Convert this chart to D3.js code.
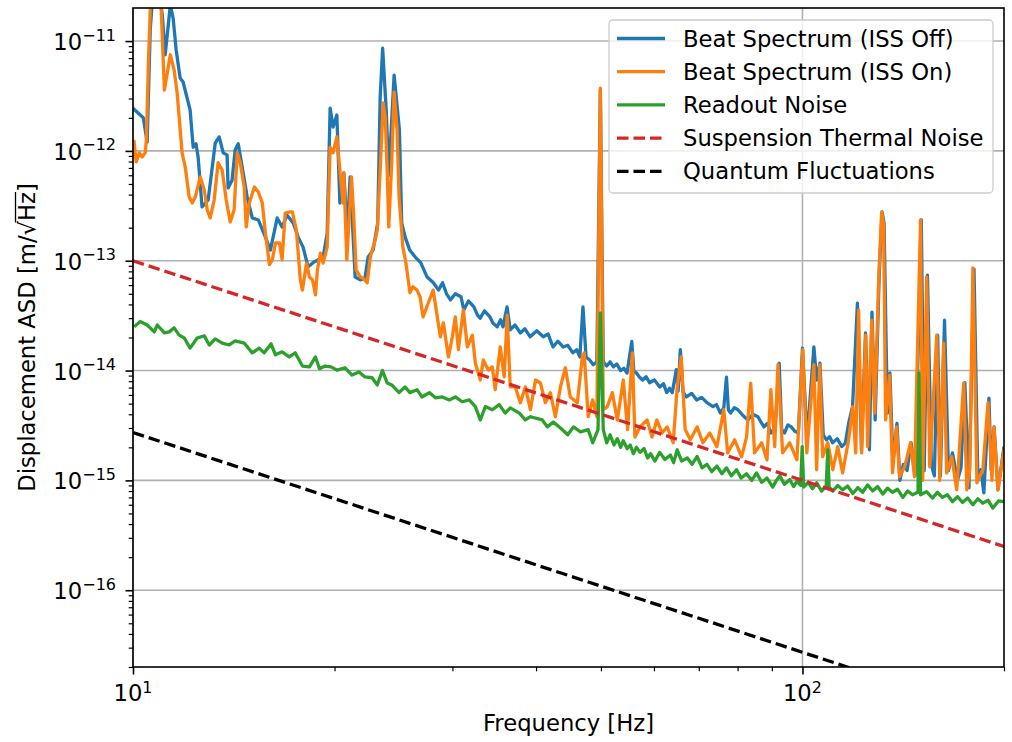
<!DOCTYPE html>
<html lang="en">
<head>
<meta charset="UTF-8">
<title>Displacement ASD</title>
<script src="https://cdn.jsdelivr.net/npm/d3@7"></script>
<style>
  body { margin: 0; background: #fff; }
  svg { display: block; font-family: "DejaVu Sans", sans-serif; }
</style>
</head>
<body>
<script>
// ---- data: [frequency in Hz, ASD in m/sqrt(Hz)] ----
const beatOff = [
  [10.0,2.45e-12],[10.25,2.12e-12],[10.36,2.0e-12],[10.5,1.2e-12],[10.54,2.9e-12],[10.61,1.26e-11],[10.7,2.6e-11],[10.9,3.2e-11],[11.06,1.73e-11],[11.17,7.5e-12],
  [11.29,1.4e-11],[11.37,2.13e-11],[11.48,1.62e-11],[11.6,8.3e-12],[11.76,4.6e-12],[11.88,4.24e-12],[12.17,2.36e-12],[12.3,1.08e-12],[12.42,1.16e-12],[12.51,8.8e-13],
  [12.68,3.09e-13],[12.95,3.57e-13],[13.27,1.18e-12],[13.45,1.34e-12],[13.64,9.6e-13],[13.82,9.2e-13],[13.87,4.6e-13],[14.06,5.4e-13],[14.21,1.02e-12],[14.36,1.16e-12],
  [14.56,7.1e-13],[14.81,3.8e-13],[15.07,2.45e-13],[15.39,2.35e-13],[15.77,1.64e-13],[16.04,1.25e-13],[16.42,2.45e-13],[16.7,2.03e-13],[16.99,2.6e-13],[17.36,2.2e-13],
  [17.65,1.64e-13],[17.95,1.33e-13],[18.26,8.8e-14],[18.58,9.6e-14],[18.91,1.02e-13],[19.23,1.08e-13],[19.5,1.78e-13],[19.7,2.45e-12],[19.9,1.65e-12],[20.16,2.12e-12],
  [20.37,3.35e-13],[20.65,6.3e-13],[20.9,1.78e-13],[21.1,5.8e-13],[21.47,7.1e-14],[21.85,6.7e-14],[22.2,6.9e-14],[22.45,1.08e-13],[22.84,1.25e-13],[23.2,2.2e-13],
  [23.4,3.09e-12],[23.6,8.6e-12],[23.9,2.24e-12],[24.1,6.0e-13],[24.55,4.9e-12],[25.0,1.55e-12],[25.2,2.2e-13],[25.5,1.64e-13],[25.9,1.25e-13],[26.4,1.08e-13],
  [26.9,9.6e-14],[27.5,7.1e-14],[28.1,6.3e-14],[28.6,5.4e-14],[29.0,6.3e-14],[29.4,5.0e-14],[29.8,4.4e-14],[30.3,5.0e-14],[30.9,4.7e-14],[31.2,3.56e-14],
  [31.7,4.3e-14],[32.3,3.8e-14],[32.7,3.2e-14],[33.0,3.0e-14],[33.5,3.5e-14],[34.1,3.1e-14],[34.5,2.7e-14],[35.0,2.5e-14],[35.4,2.9e-14],[35.7,2.5e-14],
  [36.2,3.8e-14],[36.6,2.35e-14],[37.2,2.6e-14],[37.9,2.2e-14],[38.5,2.4e-14],[39.2,2.03e-14],[40.1,2.3e-14],[41.0,2.03e-14],[41.7,2.15e-14],[42.4,1.64e-14],
  [43.1,1.85e-14],[43.9,1.64e-14],[44.6,1.7e-14],[45.4,1.45e-14],[46.0,1.55e-14],[46.5,1.33e-14],[47.0,3.8e-14],[47.5,1.33e-14],[48.1,1.25e-14],[48.7,1.13e-14],
  [49.3,1.2e-14],[49.9,3.6e-12],[50.4,1.2e-14],[51.0,1.1e-14],[51.6,1.2e-14],[52.2,1.08e-14],[52.8,1.15e-14],[53.5,1.0e-14],[54.1,1.05e-14],[54.7,9.5e-15],
  [55.6,1.84e-14],[56.0,9.8e-15],[56.5,9.5e-15],[57.1,8.7e-15],[57.7,8.2e-15],[58.4,8.8e-15],[59.1,7.75e-15],[60.1,8.2e-15],[61.2,7.1e-15],[62.0,7.6e-15],
  [62.7,6.3e-15],[63.3,6.9e-15],[63.9,6.3e-15],[64.8,1.02e-14],[65.2,6.5e-15],[65.7,1.55e-14],[66.3,6.4e-15],[67.1,5.75e-15],[68.3,6.2e-15],[69.5,5.4e-15],
  [70.7,5.7e-15],[72.0,5.1e-15],[73.5,4.7e-15],[74.4,4.9e-15],[75.4,4.1e-15],[76.3,4.6e-15],[77.0,8.7e-15],[77.5,4.4e-15],[78.1,4.1e-15],[79.1,4.6e-15],
  [80.1,4.4e-15],[81.5,3.9e-15],[82.9,3.55e-15],[84.3,4.0e-15],[85.8,3.8e-15],[86.7,3.4e-15],[87.6,3.07e-15],[88.6,3.3e-15],[89.7,2.7e-15],[91.0,3.0e-15],
  [92.3,1.17e-14],[93.1,2.9e-15],[94.0,2.7e-15],[95.1,3.2e-15],[96.2,3.07e-15],[97.4,2.8e-15],[98.6,2.7e-15],[100.0,1.6e-14],[101.6,2.34e-15],[104.0,1.64e-14],
  [105.0,8.2e-15],[106.2,1.17e-14],[107.4,2.6e-15],[108.6,2.34e-15],[109.8,2.5e-15],[110.9,2.2e-15],[112.7,2.4e-15],[114.5,2.03e-15],[115.9,2.2e-15],[117.2,3.3e-15],
  [118.8,4.7e-15],[120.8,4.1e-14],[122.5,1.9e-15],[124.2,2.2e-14],[125.9,1.9e-15],[127.0,3.4e-14],[128.4,3.55e-15],[130.2,7.4e-14],[131.5,2.78e-13],[132.4,2.2e-13],
  [133.9,4.1e-15],[135.1,9.5e-15],[136.5,1.45e-15],[138.4,3.3e-15],[139.8,1.0e-15],[141.5,1.4e-15],[143.3,1.23e-15],[145.3,2.2e-15],[147.3,1.1e-15],[150.5,2.35e-13],
  [152.0,1.23e-15],[153.7,7.4e-14],[155.8,1.38e-15],[157.4,1.1e-15],[159.2,2.1e-14],[160.7,1.1e-15],[163.0,2.87e-14],[165.2,1.23e-15],[167.5,1.78e-15],[170.4,1.0e-15],
  [172.5,1.3e-15],[174.8,7.75e-15],[177.3,8.6e-16],[180.4,8.4e-14],[182.8,1.0e-15],[184.7,1.25e-15],[186.6,7.7e-16],[189.9,5.6e-15],[191.4,1.23e-15],[193.3,3.07e-15],
  [195.9,8.2e-16],[200,2.03e-15]
];

const beatOn = [
  [10.03,1.26e-12],[10.11,7.94e-13],[10.22,9.6e-13],[10.32,8.8e-13],[10.43,9.6e-13],[10.47,1.26e-12],[10.54,5.8e-12],[10.61,1.91e-11],[10.69,3.5e-11],[10.87,3.5e-11],
  [11.02,1.91e-11],[11.14,3.58e-12],[11.25,5.1e-12],[11.37,7.5e-12],[11.52,5.45e-12],[11.64,3.36e-12],[11.84,9.6e-13],[11.97,7.1e-13],[12.13,3.8e-13],[12.26,3.35e-13],
  [12.39,3.8e-13],[12.6,5.8e-13],[12.78,4.4e-13],[12.91,2.9e-13],[13.04,2.45e-13],[13.22,3.57e-13],[13.4,7.8e-13],[13.59,6.7e-13],[13.78,3.57e-13],[13.97,2.25e-13],
  [14.16,2.9e-13],[14.31,9.6e-13],[14.46,7.8e-13],[14.66,4.7e-13],[14.76,2.03e-13],[14.92,3.35e-13],[15.18,4.7e-13],[15.39,4.22e-13],[15.6,3.35e-13],[15.77,1.78e-13],
  [15.99,9.2e-14],[16.15,1.02e-13],[16.32,1.45e-13],[16.55,1.45e-13],[16.7,1.02e-13],[16.88,2.72e-13],[17.18,2.78e-13],[17.3,2.78e-13],[17.54,1.9e-13],[17.78,6.7e-14],
  [17.91,5.4e-14],[18.16,9.5e-14],[18.35,7.1e-14],[18.54,6.7e-14],[18.73,4.9e-14],[18.86,8.3e-14],[19.05,1.17e-13],[19.23,9.5e-14],[19.5,1.33e-13],[19.7,1.08e-12],
  [19.9,9.6e-13],[20.16,1.34e-12],[20.37,6.7e-13],[20.59,3.35e-13],[20.65,6.3e-13],[20.86,1.02e-13],[21.0,2.03e-13],[21.2,5.8e-13],[21.37,2.5e-13],[21.54,8.3e-14],
  [21.85,7.1e-14],[22.08,6.9e-14],[22.38,6.3e-14],[22.62,1.08e-13],[22.93,1.45e-13],[23.17,1.9e-13],[23.4,6.7e-13],[23.64,2.73e-12],[23.81,2.04e-12],[23.97,6.7e-13],
  [24.1,2.03e-13],[24.35,7.8e-13],[24.55,3.43e-12],[24.8,1.55e-12],[24.97,3.8e-13],[25.3,1.33e-13],[25.57,9.5e-14],[25.92,5.1e-14],[26.19,5.8e-14],[26.56,5.4e-14],
  [26.84,4.7e-14],[27.12,3.08e-14],[27.6,4.1e-14],[28.08,5.4e-14],[28.48,3.08e-14],[28.78,2.03e-14],[29.08,2.72e-14],[29.59,1.33e-14],[29.99,2.03e-14],[30.3,3.08e-14],
  [30.62,1.55e-14],[31.15,3.56e-14],[31.58,1.64e-14],[32.13,2.1e-14],[32.46,1.17e-14],[33.02,8.2e-15],[33.36,1.25e-14],[33.94,1.01e-14],[34.41,1.08e-14],[34.76,6.7e-15],
  [35.36,1.64e-14],[35.85,8.75e-15],[36.22,3.2e-14],[36.6,7.1e-15],[37.24,7.1e-15],[37.9,5.1e-15],[38.55,7.1e-15],[39.23,4.4e-15],[39.92,8.2e-15],[40.6,7.7e-15],
  [41.3,5.1e-15],[42.02,6.3e-15],[42.75,3.8e-15],[43.5,7.1e-15],[44.24,1.06e-14],[45.0,5.75e-15],[46.1,5.1e-15],[46.9,1.33e-14],[47.2,1.45e-14],[47.85,3.8e-15],
  [48.6,5.4e-15],[49.3,3.8e-15],[49.9,3.73e-12],[50.4,4.4e-15],[51.1,4.7e-15],[52.0,6.3e-15],[52.9,3.55e-15],[54.0,8.2e-15],[54.8,2.9e-15],[55.7,1.45e-14],
  [56.2,2.48e-15],[57.2,3.07e-15],[58.6,3.55e-15],[59.6,2.48e-15],[60.6,3.55e-15],[61.7,2.7e-15],[62.8,3.07e-15],[64.1,2.2e-15],[65.0,7.1e-15],[65.9,1.33e-14],
  [66.8,2.9e-15],[68.0,2.34e-15],[69.6,3.07e-15],[71.0,2.2e-15],[72.7,2.7e-15],[74.5,2.03e-15],[76.3,4.4e-15],[77.3,1.78e-15],[79.2,2.34e-15],[81.1,1.64e-15],
  [82.5,2.48e-15],[83.7,7.7e-15],[84.8,1.78e-15],[86.9,2.2e-15],[88.5,1.54e-15],[89.7,6.7e-15],[90.9,2.03e-15],[91.9,1.13e-14],[93.4,1.78e-15],[95.7,2.2e-15],
  [98.1,1.54e-15],[100.1,1.55e-14],[101.5,1.78e-15],[104.0,1.13e-14],[105.0,1.25e-15],[106.1,1.13e-14],[107.2,1.64e-15],[109.1,2.2e-15],[111.0,1.25e-15],[112.9,2.03e-15],
  [114.8,1.17e-15],[117.2,2.34e-15],[118.9,4.7e-15],[120.1,1.78e-15],[121.3,3.56e-14],[122.6,1.78e-15],[124.3,2.1e-14],[125.1,2.03e-15],[126.9,2.87e-14],[128.2,4.1e-15],
  [130.0,7.1e-14],[131.3,2.78e-13],[132.2,2.12e-13],[133.1,3.55e-15],[134.9,9.1e-15],[136.3,1.17e-15],[138.2,3.07e-15],[139.6,1.08e-15],[142.1,1.33e-15],[145.0,2.2e-15],
  [147.0,1.08e-15],[150.1,2.35e-13],[151.2,1.0e-15],[153.3,7.1e-14],[154.9,1.33e-15],[158.7,2.1e-14],[160.3,1.0e-15],[162.5,1.78e-14],[164.2,1.17e-15],[167.1,1.64e-15],
  [170.0,8.2e-16],[174.1,7.7e-15],[176.0,8.2e-16],[177.8,1.25e-15],[179.7,8.6e-14],[182.2,9.5e-16],[186.0,1.25e-15],[189.3,5.1e-15],[191.9,1.0e-15],[193.2,3.07e-15],
  [195.9,8.2e-16],[200,1.9e-15]
];

const readoutNoise = [
  [10.04,2.5e-14],[10.25,2.8e-14],[10.5,2.6e-14],[10.76,2.25e-14],[10.87,2.6e-14],[11.14,2.2e-14],[11.33,2.25e-14],[11.52,2.45e-14],[11.72,2.1e-14],[11.93,1.98e-14],
  [12.17,1.6e-14],[12.47,1.98e-14],[12.78,2.07e-14],[13.0,1.71e-14],[13.27,1.94e-14],[13.59,1.78e-14],[13.92,1.71e-14],[14.21,1.86e-14],[14.66,1.78e-14],[15.07,1.45e-14],
  [15.43,1.6e-14],[15.7,1.45e-14],[16.08,1.75e-14],[16.32,1.39e-14],[16.7,1.48e-14],[17.11,1.33e-14],[17.47,1.45e-14],[17.91,1.1e-14],[18.35,1.08e-14],[18.73,1.33e-14],
  [18.99,1.04e-14],[19.36,1.1e-14],[19.76,1.08e-14],[20.17,1.01e-14],[20.74,1.06e-14],[21.24,9.1e-15],[21.76,9.7e-15],[22.2,8.75e-15],[22.76,8.6e-15],[23.17,7.4e-15],
  [23.58,1.0e-14],[23.98,7.7e-15],[24.35,7.4e-15],[24.97,6.3e-15],[25.48,7.1e-15],[25.92,6.3e-15],[26.56,6.7e-15],[27.02,5.75e-15],[27.71,6.3e-15],[28.29,5.65e-15],
  [28.97,5.75e-15],[29.68,5.4e-15],[30.3,5.75e-15],[31.03,5.2e-15],[31.79,5.4e-15],[32.46,4.7e-15],[33.02,3.55e-15],[33.6,4.7e-15],[34.41,4.4e-15],[35.24,4.9e-15],
  [35.97,4.1e-15],[36.6,4.57e-15],[37.77,4.1e-15],[38.55,3.55e-15],[39.23,3.8e-15],[40.87,3.55e-15],[41.58,3.07e-15],[42.45,3.4e-15],[43.5,3.0e-15],[44.6,2.6e-15],
  [45.5,3.07e-15],[46.6,2.77e-15],[47.85,2.9e-15],[48.6,2.2e-15],[49.5,2.9e-15],[49.9,3.35e-14],[50.4,2.9e-15],[51.0,2.2e-15],[51.6,2.6e-15],[52.3,2.1e-15],
  [52.9,2.4e-15],[53.5,2.0e-15],[54.0,2.3e-15],[54.7,1.95e-15],[55.3,2.1e-15],[55.9,1.75e-15],[56.5,2.0e-15],[57.2,1.8e-15],[58.0,1.95e-15],[58.7,1.6e-15],
  [59.3,1.75e-15],[60.2,1.5e-15],[61.2,1.8e-15],[62.3,1.55e-15],[63.5,1.7e-15],[64.2,1.45e-15],[65.0,1.9e-15],[66.0,1.5e-15],[67.3,1.6e-15],[68.4,1.4e-15],
  [69.6,1.65e-15],[70.8,1.3e-15],[72.0,1.4e-15],[73.2,1.2e-15],[74.5,1.35e-15],[75.8,1.15e-15],[77.0,1.3e-15],[78.3,1.1e-15],[79.7,1.25e-15],[81.0,1.05e-15],
  [82.5,1.15e-15],[84.0,1.0e-15],[85.4,1.17e-15],[86.9,9.6e-16],[88.5,1.05e-15],[90.3,8.7e-16],[91.4,1.0e-15],[92.5,1.1e-15],[94.0,9.2e-16],[95.7,1.02e-15],
  [97.0,8.8e-16],[98.1,9.8e-16],[99.4,9.0e-16],[99.9,2.03e-15],[100.4,8.7e-16],[102.0,9.6e-16],[103.5,8.4e-16],[105.0,9.5e-16],[106.8,8.0e-16],[108.5,8.9e-16],
  [109.1,1.9e-15],[109.6,8.7e-16],[111.0,8.0e-16],[112.9,9.0e-16],[114.8,8.2e-16],[116.8,8.9e-16],[118.9,7.6e-16],[121.0,8.6e-16],[123.0,7.8e-16],[125.1,9.1e-16],
  [127.3,8.0e-16],[129.5,8.8e-16],[131.8,7.5e-16],[134.0,8.5e-16],[136.3,7.8e-16],[138.7,8.3e-16],[141.2,7.0e-16],[143.6,8.0e-16],[146.0,7.4e-16],[148.8,7.8e-16],
  [149.3,9.5e-15],[150.1,7.4e-16],[153.2,7.9e-16],[156.4,6.9e-16],[159.0,7.8e-16],[161.8,7.0e-16],[164.6,7.4e-16],[167.6,6.4e-16],[170.5,7.1e-16],[173.4,6.3e-16],
  [176.5,6.9e-16],[179.7,6.0e-16],[182.8,6.8e-16],[186.0,6.2e-16],[189.3,6.6e-16],[192.5,5.6e-16],[196.2,6.5e-16],[200,6.4e-16]
];

const suspensionThermal = [[10, 1e-13], [200, 2.5e-16]];
const quantumFluct = [[10, 2.73e-15], [200, 6.8e-18]];

const seriesNames = ["Beat Spectrum (ISS Off)", "Beat Spectrum (ISS On)", "Readout Noise",
                     "Suspension Thermal Noise", "Quantum Fluctuations"];
const seriesColors = ["#1f77b4", "#ff7f0e", "#2ca02c", "#d62728", "#000000"];
const seriesDashed = [false, false, false, true, true];
const seriesData = [beatOff, beatOn, readoutNoise, suspensionThermal, quantumFluct];

const xMajor = [10, 100];
const xMajorExp = ["1", "2"];
const xMinor = [20, 30, 40, 50, 60, 70, 80, 90, 200];
const yMajor = [1e-16, 1e-15, 1e-14, 1e-13, 1e-12, 1e-11];
const yMajorExp = ["\u221216", "\u221215", "\u221214", "\u221213", "\u221212", "\u221211"];

// ---- layout ----
const width = 1012, height = 742;
const plot = { left: 133, right: 1004, top: 8, bottom: 667 };
const fontSize = "22.7px", supSize = "16px";
const lineW = 3.3;
const dash = "11.5,5";

const svg = d3.select("body").append("svg")
  .attr("width", width)
  .attr("height", height);

const x = d3.scaleLog().domain([10, 200]).range([plot.left, plot.right]);
const y = d3.scaleLog().domain([2e-17, 2e-11]).range([plot.bottom, plot.top]);

// minor y ticks: 2..9 times each decade inside the domain
const yMinor = [];
for (let k = -17; k <= -12; k++) {
  for (let m = 2; m <= 9; m++) {
    const v = m * Math.pow(10, k);
    if (v >= 2e-17 * 0.999 && v <= 2e-11 * 1.001) yMinor.push(v);
  }
}

svg.append("clipPath").attr("id", "plot-clip")
  .append("rect")
  .attr("x", plot.left).attr("y", plot.top)
  .attr("width", plot.right - plot.left)
  .attr("height", plot.bottom - plot.top);

// grid (major ticks only)
const grid = svg.append("g").attr("stroke", "#b0b0b0").attr("stroke-width", 1.6);
grid.selectAll("line.gy").data(yMajor).join("line")
  .attr("x1", plot.left).attr("x2", plot.right)
  .attr("y1", d => y(d)).attr("y2", d => y(d));
grid.selectAll("line.gx").data(xMajor).join("line")
  .attr("x1", d => x(d)).attr("x2", d => x(d))
  .attr("y1", plot.top).attr("y2", plot.bottom);

// data lines
const line = d3.line().x(d => x(d[0])).y(d => y(d[1]));
const lines = svg.append("g").attr("clip-path", "url(#plot-clip)");
seriesData.forEach((data, i) => {
  lines.append("path")
    .datum(data)
    .attr("d", line)
    .attr("fill", "none")
    .attr("stroke", seriesColors[i])
    .attr("stroke-width", lineW)
    .attr("stroke-linejoin", "round")
    .attr("stroke-dasharray", seriesDashed[i] ? dash : null);
});

// frame
svg.append("rect")
  .attr("x", plot.left).attr("y", plot.top)
  .attr("width", plot.right - plot.left)
  .attr("height", plot.bottom - plot.top)
  .attr("fill", "none")
  .attr("stroke", "#000")
  .attr("stroke-width", 1.6);

// ticks
function tickStyle(g, w) {
  g.select(".domain").remove();
  g.selectAll("line").attr("stroke-width", w);
}
svg.append("g").attr("transform", `translate(0,${plot.bottom})`)
  .call(d3.axisBottom(x).tickValues(xMajor).tickSize(7.5).tickFormat(""))
  .call(g => tickStyle(g, 1.6));
svg.append("g").attr("transform", `translate(0,${plot.bottom})`)
  .call(d3.axisBottom(x).tickValues(xMinor).tickSize(4.3).tickFormat(""))
  .call(g => tickStyle(g, 1.2));
svg.append("g").attr("transform", `translate(${plot.left},0)`)
  .call(d3.axisLeft(y).tickValues(yMajor).tickSize(7.5).tickFormat(""))
  .call(g => tickStyle(g, 1.6));
svg.append("g").attr("transform", `translate(${plot.left},0)`)
  .call(d3.axisLeft(y).tickValues(yMinor).tickSize(4.3).tickFormat(""))
  .call(g => tickStyle(g, 1.2));

// tick labels
xMajor.forEach((v, i) => {
  const t = svg.append("text")
    .attr("x", x(v)).attr("y", 701)
    .attr("text-anchor", "middle")
    .style("font-size", fontSize);
  t.append("tspan").text("10");
  t.append("tspan").attr("dy", -8).style("font-size", supSize).text(xMajorExp[i]);
});
yMajor.forEach((v, i) => {
  const t = svg.append("text")
    .attr("x", 116).attr("y", y(v) + 9)
    .attr("text-anchor", "end")
    .style("font-size", fontSize);
  t.append("tspan").text("10");
  t.append("tspan").attr("dy", -9.5).style("font-size", supSize).text(yMajorExp[i]);
});

// axis labels
svg.append("text")
  .attr("x", (plot.left + plot.right) / 2).attr("y", 731)
  .attr("text-anchor", "middle")
  .style("font-size", fontSize)
  .text("Frequency [Hz]");

const yLabelText = "Displacement ASD [m/\u221AHz]";
const yLab = svg.append("g").attr("transform", `translate(35,${(plot.top + plot.bottom) / 2}) rotate(-90)`);
const yLabNode = yLab.append("text")
  .attr("text-anchor", "middle")
  .style("font-size", fontSize)
  .text(yLabelText).node();
// vinculum over "Hz"
const iRoot = yLabelText.indexOf("\u221A");
const rootBox = yLabNode.getExtentOfChar(iRoot);
const zBox = yLabNode.getExtentOfChar(iRoot + 2);
yLab.append("line")
  .attr("x1", rootBox.x + rootBox.width - 1.5)
  .attr("x2", zBox.x + zBox.width)
  .attr("y1", -19.5).attr("y2", -19.5)
  .attr("stroke", "#000").attr("stroke-width", 1.3);

// legend
const legend = svg.append("g");
legend.append("rect")
  .attr("x", 609).attr("y", 20)
  .attr("width", 384).attr("height", 173)
  .attr("rx", 4)
  .attr("fill", "#fff").attr("fill-opacity", 0.8)
  .attr("stroke", "#cccccc").attr("stroke-width", 1.3);
seriesNames.forEach((name, i) => {
  const cy = 38.5 + i * 33.2;
  legend.append("line")
    .attr("x1", 617).attr("x2", 665)
    .attr("y1", cy).attr("y2", cy)
    .attr("stroke", seriesColors[i])
    .attr("stroke-width", lineW)
    .attr("stroke-dasharray", seriesDashed[i] ? dash : null);
  legend.append("text")
    .attr("x", 683).attr("y", cy + 8)
    .style("font-size", fontSize)
    .text(name);
});
</script>
</body>
</html>
